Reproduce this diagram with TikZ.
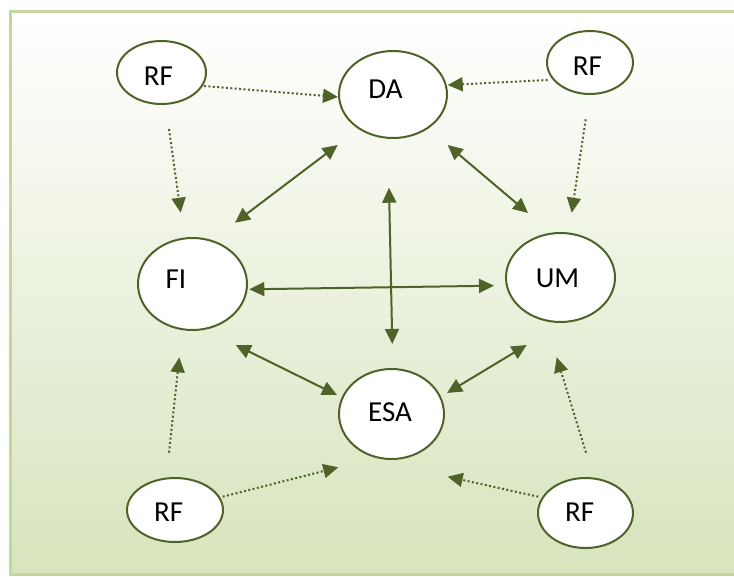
\documentclass[tikz,border=0pt]{standalone}
\usepackage{fontspec}
\setmainfont{Carlito}
\usetikzlibrary{shapes.geometric,arrows.meta,calc}
\definecolor{leafline}{HTML}{4F6228}
\definecolor{framegreen}{HTML}{C3D69B}
\definecolor{palegreen}{HTML}{D7E4BD}
\begin{document}
\begin{tikzpicture}[x=1pt,y=-1pt,
  bubble/.style={ellipse, draw=leafline, line width=2pt, fill=white, inner sep=0pt},
  rfbubble/.style={bubble},
  txt/.style={anchor=base, inner sep=0pt, font=\fontsize{29pt}{34pt}\selectfont, text=black},
  tip/.style={Triangle[length=15pt,width=14pt]},
  link/.style={draw=leafline, line width=2pt, {Triangle[length=15pt,width=14pt]}-{Triangle[length=15pt,width=14pt]}},
  feed/.style={draw=leafline, line width=2pt, dash pattern=on 2pt off 2.4pt, -{Triangle[length=15pt,width=14pt]}},
]
\clip (0,0) rectangle (734,576);

% panel with vertical gradient and light green frame
\shade[top color=white, bottom color=palegreen] (10,11.3) rectangle (745,574.5);
\draw[framegreen, line width=3pt] (10,11.3) rectangle (745,574.5);

% main concepts
\node[bubble, minimum width=108pt, minimum height=87pt] (da)  at (393,94.5)  {};
\node[bubble, minimum width=109pt, minimum height=92pt] (fi)  at (192.5,284) {};
\node[bubble, minimum width=109pt, minimum height=89pt] (um)  at (560.5,277.5) {};
\node[bubble, minimum width=105pt, minimum height=90pt] (esa) at (391.5,414) {};

% surrounding RF factors
\node[rfbubble, minimum width=89pt, minimum height=63pt] (rf1) at (161.5,72.5) {};
\node[rfbubble, minimum width=86pt, minimum height=63pt] (rf2) at (590,62.5)   {};
\node[rfbubble, minimum width=96pt, minimum height=64pt] (rf3) at (175,510)    {};
\node[rfbubble, minimum width=95pt, minimum height=70pt] (rf4) at (585.5,513)  {};

% labels
\node[txt] (da-text)  at (385.5,98)  {DA};
\node[txt] (fi-text)  at (176,288)   {FI};
\node[txt] (um-text)  at (557.5,287) {UM};
\node[txt] (esa-text) at (390,421)   {ESA};
\node[txt] (rf1-text) at (158.5,85)  {RF};
\node[txt] (rf2-text) at (587.5,75.7) {RF};
\node[txt] (rf3-text) at (168.7,521.7) {RF};
\node[txt] (rf4-text) at (579.7,521.7) {RF};

% two-way links between the main concepts
\draw[link] ($(da)+(-55.3,50.5)$) -- ($(fi)+(42.5,-61.3)$);
\draw[link] ($(da)+(54.7,50.5)$)  -- ($(um)+(-32.5,-64.5)$);
\draw[link] ($(da)+(-4,93.2)$)    -- ($(esa)+(0.8,-70)$);
\draw[link] ($(fi)+(56.8,5.3)$)   -- ($(um)+(-66.5,8.2)$);
\draw[link] ($(fi)+(43.2,61)$)    -- ($(esa)+(-54.5,-19)$);
\draw[link] ($(um)+(-33.8,67.5)$) -- ($(esa)+(55.5,-21)$);

% dotted influences from the RF factors
\draw[feed] ($(rf1)+(42.5,13.5)$)  -- ($(da)+(-55,2.5)$);
\draw[feed] ($(rf2)+(-42.3,17.5)$) -- ($(da)+(54.7,-9.5)$);
\draw[feed] ($(rf1)+(7.5,56.5)$)   -- ($(fi)+(-11.8,-71.3)$);
\draw[feed] ($(rf2)+(-4.3,56.8)$)  -- ($(um)+(11.2,-64.8)$);
\draw[feed] ($(rf3)+(-6,-57.3)$)   -- ($(fi)+(-13.2,73.3)$);
\draw[feed] ($(rf3)+(47.7,-13.3)$) -- ($(esa)+(-53.2,53.3)$);
\draw[feed] ($(rf4)+(0.5,-60.3)$)  -- ($(um)+(-3.8,79.8)$);
\draw[feed] ($(rf4)+(-47.2,-16.3)$) -- ($(esa)+(56.2,62.7)$);
\end{tikzpicture}
\end{document}
